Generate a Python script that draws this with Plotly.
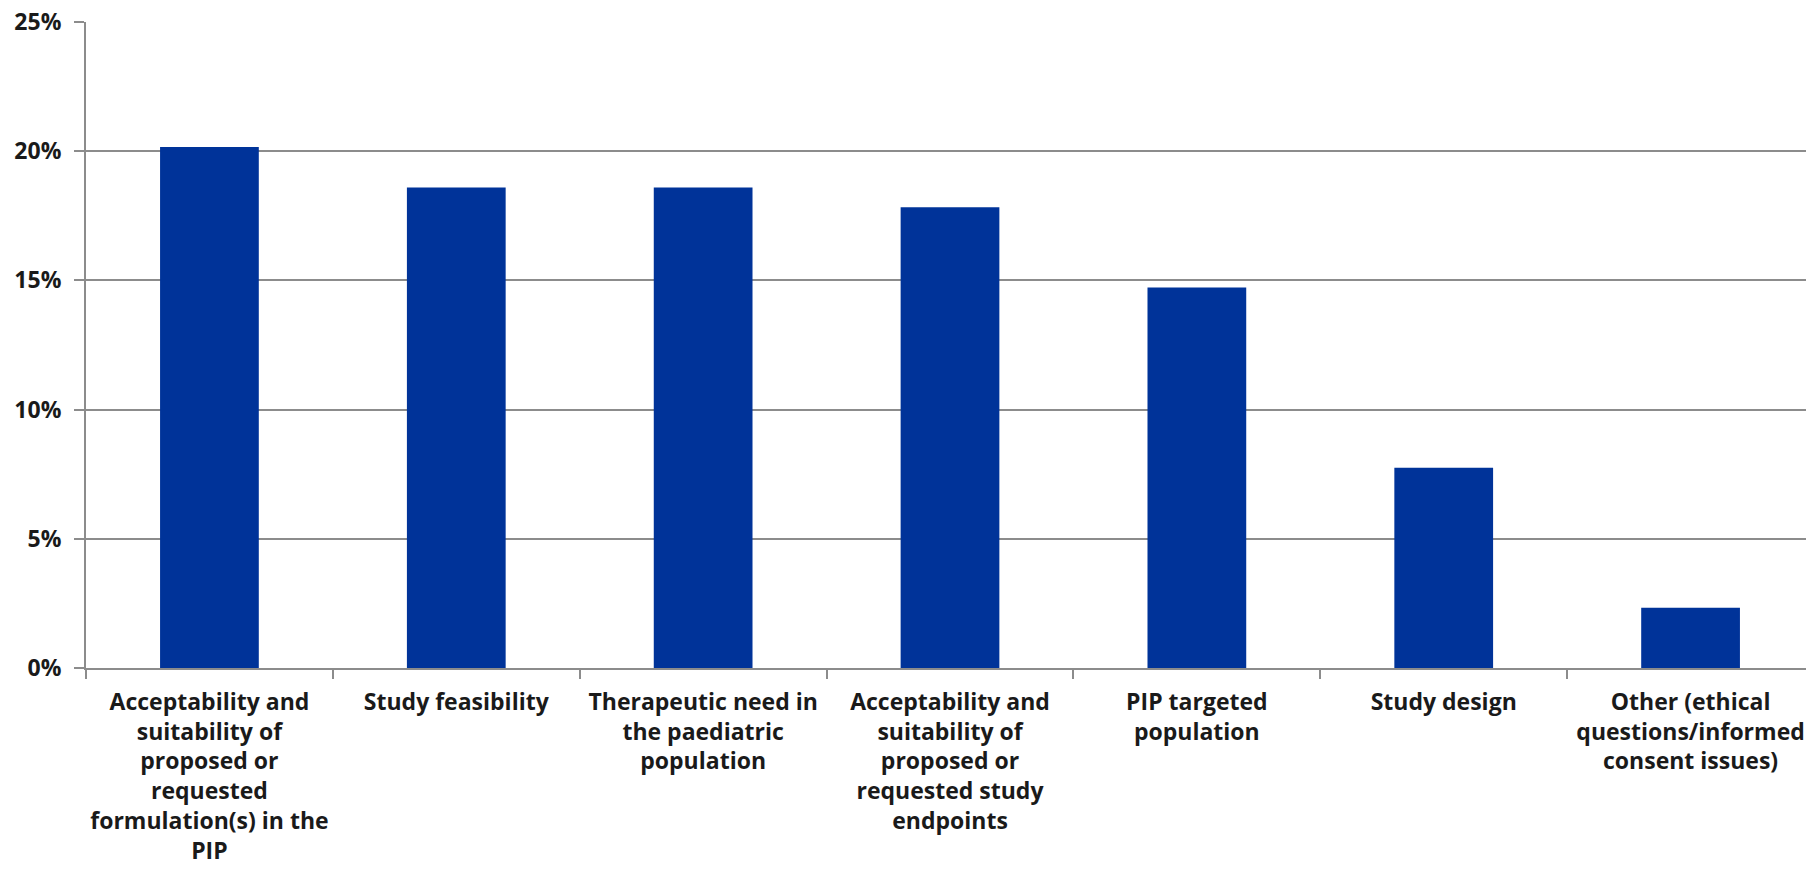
import plotly.graph_objects as go

categories = [
    "Acceptability and<br>suitability of<br>proposed or<br>requested<br>formulation(s) in the<br>PIP",
    "Study feasibility",
    "Therapeutic need in<br>the paediatric<br>population",
    "Acceptability and<br>suitability of<br>proposed or<br>requested study<br>endpoints",
    "PIP targeted<br>population",
    "Study design",
    "Other (ethical<br>questions/informed<br>consent issues)",
]
shares = [0.2016, 0.186, 0.186, 0.1783, 0.1473, 0.0775, 0.0233]
y_ticks = [0, 0.05, 0.10, 0.15, 0.20, 0.25]

fig = go.Figure(go.Bar(
    x=categories,
    y=shares,
    marker=dict(color="#003399", line=dict(width=0)),
))

# page body has an 8px margin, so the figure is shifted by that much
fig.update_layout(
    width=1806,
    height=866,
    margin=dict(l=78, r=0, t=14, b=206),
    paper_bgcolor="white",
    plot_bgcolor="white",
    bargap=0.6,
    showlegend=False,
    font=dict(family="Open Sans", size=23, color="#1a1a1a"),
)

fig.update_xaxes(
    showline=True, linecolor="#8c8c8c", linewidth=2,
    ticks="outside", tickson="boundaries", ticklen=9, tickcolor="#8c8c8c", tickwidth=1.5,
    tickfont=dict(family="Open Sans", size=23, weight="bold"),
    tickangle=0,
    ticklabelstandoff=12,
    automargin=False,
    showgrid=False,
)
fig.update_yaxes(
    range=[0, 0.25],
    tickvals=y_ticks,
    tickformat=".0%",
    showline=True, linecolor="#8c8c8c", linewidth=2,
    ticks="outside", ticklen=10, tickcolor="#8c8c8c", tickwidth=1.5,
    showgrid=True, gridcolor="#8c8c8c", gridwidth=1.5,
    tickfont=dict(family="Open Sans", size=23, weight="bold"),
    ticklabelstandoff=8,
    ticklabeloverflow="allow",
    automargin=False,
    zeroline=False,
)

fig.write_html("out.html")
